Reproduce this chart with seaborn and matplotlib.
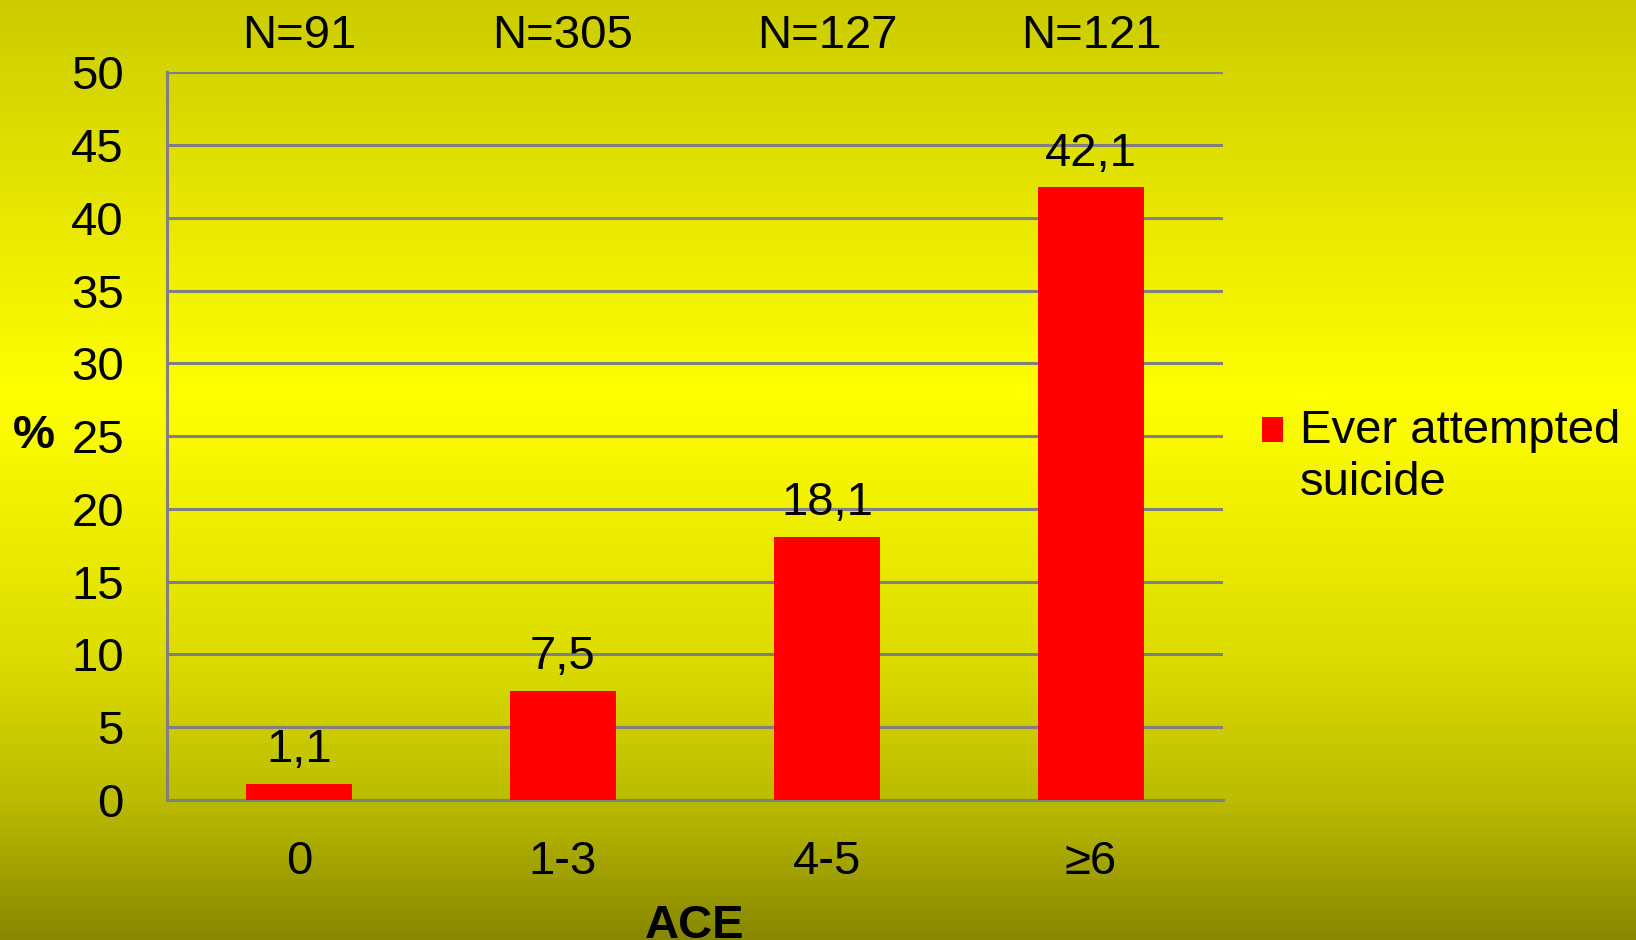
import numpy as np
import matplotlib
matplotlib.use("Agg")
import matplotlib.pyplot as plt
from matplotlib.colors import LinearSegmentedColormap
import seaborn as sns

categories = ["0", "1-3", "4-5", "\u22656"]
values = [1.1, 7.5, 18.1, 42.1]
value_labels = ["1,1", "7,5", "18,1", "42,1"]
n_labels = ["N=91", "N=305", "N=127", "N=121"]
series_name = "Ever attempted\nsuicide"

sns.set_theme(style="white")
plt.rcParams['font.family'] = ['Liberation Sans', 'DejaVu Sans']
plt.rcParams['text.color'] = 'black'
FS = 34

fig = plt.figure(figsize=(16.36, 9.4), dpi=100)

# background gradient (olive -> bright yellow -> dark olive)
bg = LinearSegmentedColormap.from_list(
    "bg", [(0.0, "#cccc00"), (0.42, "#ffff00"), (0.7, "#dcdc00"),
           (0.85, "#bcbc00"), (1.0, "#888800")])
bga = fig.add_axes([0, 0, 1, 1], zorder=-1)
bga.imshow(np.linspace(0, 1, 256)[:, None], aspect="auto", cmap=bg,
           extent=[0, 1, 0, 1])
bga.set_axis_off()

ax = fig.add_axes([0.102, 0.149, 0.6456, 0.774])
ax.patch.set_alpha(0)
sns.barplot(x=categories, y=values, color="#ff0000", width=0.4,
            saturation=1, ax=ax, zorder=3, linewidth=0, label=series_name)

ax.set_ylim(0, 50)
ax.set_xlim(-0.5, 3.5)
ax.set_yticks(range(0, 51, 5))
ax.yaxis.grid(True, color="#808080", linewidth=2.2, zorder=0)
ax.set_axisbelow(True)
for s in ["top", "right"]:
    ax.spines[s].set_visible(False)
for s in ["left", "bottom"]:
    ax.spines[s].set_color("#808080")
    ax.spines[s].set_linewidth(2.2)
ax.tick_params(axis="both", labelsize=FS, labelcolor="black", length=0)
ax.tick_params(axis="y", pad=31)
ax.tick_params(axis="x", pad=29)

for i, (v, lab) in enumerate(zip(values, value_labels)):
    ax.text(i, v + 0.8, lab, ha="center", va="bottom", fontsize=FS)
for i, lab in enumerate(n_labels):
    ax.text(i, 51.0, lab, ha="center", va="bottom", fontsize=FS)

ax.set_xlabel("ACE", fontsize=FS, fontweight="bold", color="black", labelpad=14)
ax.set_ylabel("%", fontsize=FS, fontweight="bold", color="black", rotation=0,
              va="center", ha="center")
ax.yaxis.set_label_coords(-0.126, 0.5)

leg = fig.legend(loc="upper left", bbox_to_anchor=(0.7716, 0.565),
                 frameon=False, fontsize=FS, handlelength=0.44,
                 handleheight=0.44, handletextpad=0.36, borderpad=0,
                 borderaxespad=0)
for t in leg.get_texts():
    t.set_linespacing(1.25)
# square sits next to the first line, as in the original
h = leg.legend_handles[0]
h.set_y(h.get_y() + 20)
if ax.get_legend() is not None:
    ax.get_legend().remove()

fig.savefig("out.png", dpi=100)
